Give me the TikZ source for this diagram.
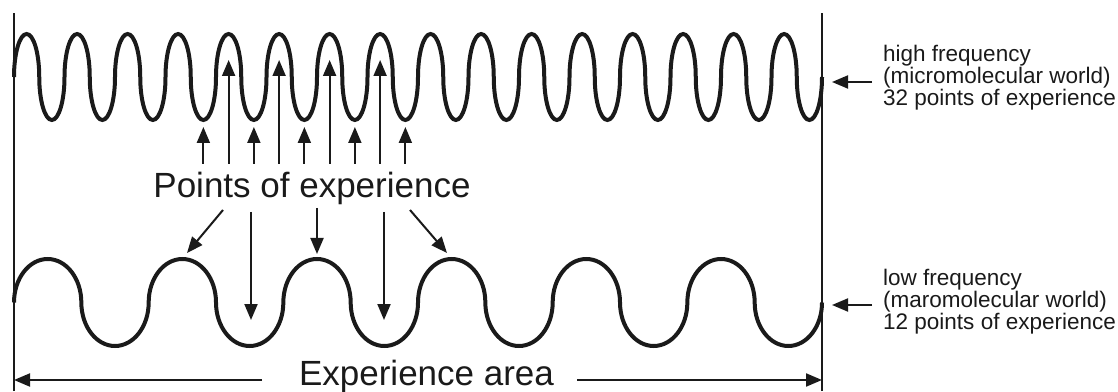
\documentclass[tikz,border=0pt]{standalone}
\usepackage{fontspec}
\setmainfont{Liberation Sans}
\usetikzlibrary{arrows.meta}

\definecolor{ink}{HTML}{1A1A1A}

\begin{document}
\begin{tikzpicture}[
    x=1pt, y=1pt,
    frame/.style={draw=ink, line width=1.6pt},
    wave/.style={draw=ink, line width=4pt},
    arr/.style={draw=ink, line width=2pt, -{Triangle[length=16pt, width=13pt]}},
    biglabel/.style={font=\fontsize{35}{38}\selectfont, text=ink, inner sep=0pt, anchor=base},
    sidelabel/.style={font=\fontsize{22.5}{22}\selectfont, text=ink, align=left, inner sep=0pt, anchor=base west}
]
\useasboundingbox (0,0) rectangle (1118,391);

% frame of the experience area
\coordinate (boxBL) at (14,0);
\coordinate (boxTL) at (14,378);
\coordinate (boxBR) at (822,0);
\coordinate (boxTR) at (822,378);
\draw[frame] (boxBL) -- (boxTL);
\draw[frame] (boxBR) -- (boxTR);

% high frequency wave (16 periods)
\draw[wave] (14,314) \foreach \i in {1,...,16} {
    arc[start angle=180, end angle=0, x radius=12.625, y radius=43]
    arc[start angle=180, end angle=360, x radius=12.625, y radius=43]
};

% low frequency wave (6 periods)
\draw[wave] (14,88.5) \foreach \i in {1,...,6} {
    arc[start angle=180, end angle=0, x radius=33.667, y radius=43.5]
    arc[start angle=180, end angle=360, x radius=33.667, y radius=43.5]
};

% labels
\node[biglabel] (pts) at (312,193) {Points of experience};
\node[biglabel] (area) at (426.5,6) {Experience area};
\node[sidelabel] (hilabel) at (883,285) {high frequency\\(micromolecular world)\\32 points of experience};
\node[sidelabel] (lolabel) at (883,62) {low frequency\\(maromolecular world)\\12 points of experience};

% pointers from the side labels
\coordinate (hitail) at (872,309);
\coordinate (hitip) at (832,309);
\coordinate (lotail) at (872,86);
\coordinate (lotip) at (832,86);
\draw[arr] (hitail) -- (hitip);
\draw[arr] (lotail) -- (lotip);

% points on the high frequency wave
\foreach \k in {3,...,7} {
    \coordinate (trough\k) at ({14+50.5*(\k+0.75)},264);
    \coordinate (trtail\k) at ({14+50.5*(\k+0.75)},227);
    \draw[arr] (trtail\k) -- (trough\k);
}
\foreach \k in {4,...,7} {
    \coordinate (peak\k) at ({14+50.5*(\k+0.25)},331);
    \coordinate (pktail\k) at ({14+50.5*(\k+0.25)},227);
    \draw[arr] (pktail\k) -- (peak\k);
}

% points on the low frequency wave
\foreach \tx/\ty/\hx/\hy [count=\n] in {223/181/187/138, 251/179/251/71, 317/183/317/137, 384/179/384/71, 410/181/447/138} {
    \coordinate (lowtail\n) at (\tx,\ty);
    \coordinate (lowtip\n) at (\hx,\hy);
    \draw[arr] (lowtail\n) -- (lowtip\n);
}

% extent of the experience area
\coordinate (areaL) at (262,11);
\coordinate (areaR) at (577,11);
\draw[arr] (areaL) -- (areaL -| boxBL);
\draw[arr] (areaR) -- (areaR -| boxBR);

\end{tikzpicture}
\end{document}
